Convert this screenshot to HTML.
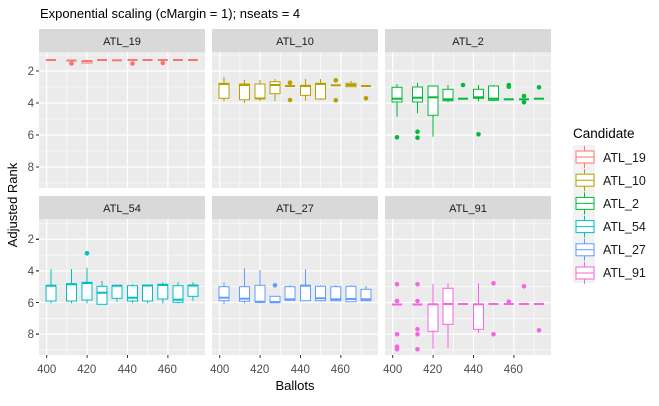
<!DOCTYPE html>
<html><head><meta charset="utf-8"><style>
html,body{margin:0;padding:0;background:#fff;}
svg text{font-family:"Liberation Sans",Arial,sans-serif;}
</style></head><body>
<svg id="s" width="659" height="401" xmlns="http://www.w3.org/2000/svg">
<rect width="659" height="401" fill="#fff"/>
<text x="40" y="18" font-size="13" fill="#000">Exponential scaling (cMargin = 1); nseats = 4</text>
<g id="panels"></g>
<g font-size="11" fill="#333">
<text x="122" y="45" text-anchor="middle" fill="#1a1a1a">ATL_19</text>
<text x="295" y="45" text-anchor="middle" fill="#1a1a1a">ATL_10</text>
<text x="468" y="45" text-anchor="middle" fill="#1a1a1a">ATL_2</text>
<text x="122" y="212" text-anchor="middle" fill="#1a1a1a">ATL_54</text>
<text x="295" y="212" text-anchor="middle" fill="#1a1a1a">ATL_27</text>
<text x="468" y="212" text-anchor="middle" fill="#1a1a1a">ATL_91</text>
</g>
<g font-size="11.5" fill="#4d4d4d" text-anchor="end">
<text x="34" y="75">2</text><text x="34" y="107">4</text><text x="34" y="139">6</text><text x="34" y="171">8</text>
<text x="34" y="243">2</text><text x="34" y="275">4</text><text x="34" y="307">6</text><text x="34" y="338">8</text>
</g>
<g font-size="11.5" fill="#4d4d4d" text-anchor="middle" id="xl">
<text x="46.7" y="373">400</text><text x="86.7" y="373">420</text><text x="127.3" y="373">440</text><text x="167.3" y="373">460</text>
<text x="219.7" y="373">400</text><text x="259.7" y="373">420</text><text x="300.3" y="373">440</text><text x="340.3" y="373">460</text>
<text x="392.7" y="373">400</text><text x="432.7" y="373">420</text><text x="473.3" y="373">440</text><text x="513.3" y="373">460</text>
</g>
<text x="295" y="390" font-size="13" text-anchor="middle">Ballots</text>
<text transform="translate(17,205) rotate(-90)" font-size="13" text-anchor="middle">Adjusted Rank</text>
<text x="573" y="138" font-size="13.5">Candidate</text>
<rect x="573" y="145" width="22" height="138" fill="#f2f2f2"/>
<g id="leg"></g>
<g font-size="12.5" fill="#1a1a1a">
<text x="603" y="162">ATL_19</text><text x="603" y="185">ATL_10</text><text x="603" y="208">ATL_2</text>
<text x="603" y="231">ATL_54</text><text x="603" y="254">ATL_27</text><text x="603" y="277">ATL_91</text>
</g>
</svg>
<script>
var NS="http://www.w3.org/2000/svg";
function el(p,t,a){var e=document.createElementNS(NS,t);for(var k in a)e.setAttribute(k,a[k]);p.appendChild(e);return e;}
var G=document.getElementById('panels');
var cols=[39,212,385], rows=[[52,188],[219,355]];
var offs=[12,32.5,48,63,78,93.5,108.5,123.8,139,154];
var px=function(L,b){return L+7.7+(b-400)*2.02;};
rows.forEach(function(r,ri){cols.forEach(function(L){
 el(G,'rect',{x:L,y:r[0]-23,width:166,height:23,fill:'#d9d9d9'});
 el(G,'rect',{x:L,y:r[0],width:166,height:r[1]-r[0],fill:'#ebebeb'});
 var yf=ri==0?function(v){return 39+16*v}:function(v){return 207.7+15.8*v};
 for(var v=1;v<=9;v+=2) el(G,'line',{x1:L,x2:L+166,y1:yf(v),y2:yf(v),stroke:'#fff','stroke-width':0.6});
 for(var v=2;v<=8;v+=2) el(G,'line',{x1:L,x2:L+166,y1:yf(v),y2:yf(v),stroke:'#fff','stroke-width':1.2});
 for(var b=410;b<=470;b+=20) el(G,'line',{x1:px(L,b),x2:px(L,b),y1:r[0],y2:r[1],stroke:'#fff','stroke-width':0.6});
 for(var b=400;b<=460;b+=20) el(G,'line',{x1:px(L,b),x2:px(L,b),y1:r[0],y2:r[1],stroke:'#fff','stroke-width':1.2});
 for(var v=2;v<=8;v+=2) el(G,'line',{x1:36,x2:39,y1:yf(v),y2:yf(v),stroke:'#333'});
 if(ri==1){for(var b=400;b<=460;b+=20) el(G,'line',{x1:px(L,b),x2:px(L,b),y1:355,y2:358,stroke:'#333'});}
});});
function draw(L,data,c){data.forEach(function(d,i){
 var cx=L+offs[i];
 if(d[0]==='f'){el(G,'line',{x1:cx-5,x2:cx+5,y1:d[1],y2:d[1],stroke:c,'stroke-width':2});
  (d[2]||[]).forEach(function(o){el(G,'circle',{cx:cx,cy:o,r:2.3,fill:c});});return;}
 el(G,'line',{x1:cx,x2:cx,y1:d[0],y2:d[1],stroke:c,'stroke-width':1});
 el(G,'line',{x1:cx,x2:cx,y1:d[3],y2:d[4],stroke:c,'stroke-width':1});
 el(G,'rect',{x:cx-5,y:d[1],width:10,height:d[3]-d[1],fill:'#fff',stroke:c,'stroke-width':1});
 el(G,'line',{x1:cx-5,x2:cx+5,y1:d[2],y2:d[2],stroke:c,'stroke-width':2});
 (d[5]||[]).forEach(function(o){el(G,'circle',{cx:cx,cy:o,r:2.3,fill:c});});
});}
draw(39,[['f',60],['f',60.5,[63.5]],[61,61,61,63,63],['f',60],['f',60.3],['f',60,[63.5]],['f',60],['f',60,[63]],['f',60],['f',60]],'#F8766D');
draw(212,[[77,83.3,84,98.3,101],[80,84,85,99.7,103],[80,84,98.5,98.5,101],[79,81.7,85,93.7,101],['f',86,[82.7,100]],[79,85.3,86,95.3,100.7],[79,83.3,84,99,100],['f',85.3,[80.3,100.3]],[81,83.3,85,86.7,86.7],['f',86,[98.3]]],'#B79F00');
draw(385,[[84,87.3,98.7,102,116.7,[137.3]],[82.7,87,97.7,102,113.3,[131.7,137.7]],[85.3,86,97.3,115.3,136.7],[85,89.3,99.3,100.7,102.3],['f',98.7,[85]],[85,89.3,97.3,98.3,101.3,[134.3]],[85,86,98.7,100.3,101],['f',99.3,[85,86.7]],['f',99.3,[96,102.3]],['f',98.7,[87.3]]],'#00BA38');
draw(39,[[269,285.7,285.7,301,303.3],[269,283.7,284.3,301,303.3],[267.7,282.3,283,300,303.3,[253.3]],[281,286.3,292.7,304.3,304.3],[285,285.7,285.7,298.3,301.7],[284.3,285.7,297.7,301,303.3],[285,285,285.5,301,303.3],[282.3,284.3,285,299,303.3],[282.3,285.7,299.7,302.3,303.3],[282.3,285,285.5,296.3,300.7]],'#00BFC4');
draw(212,[[282.3,286.7,297.7,300.7,304.3],[268.3,286.7,298.7,301.3,303.3],[270,285.3,301.7,302.3,303.3],[296.3,296.3,302,302.7,302.7,[285.3]],[285.3,286.7,299.3,300.3,300.3],[269.3,285.3,285.7,300.7,300.7],[285.3,286.3,298.3,300.7,301.3],[285.3,286.7,299.3,300.7,301.3],[285.3,286.3,299,301.7,302],[286,289.3,299.3,300.7,300.7]],'#619CFF');
draw(385,[['f',304.5,[301,284.3,334.3,346.7,349.3]],['f',304.5,[301,284.3,329.3,334.3,349.3]],[284,304.3,304.3,331.3,348.7],[283.3,288.3,304,324.3,347.7],['f',304],[283.3,304.3,304.3,329.3,333.3],['f',304,[283.3,334.3]],['f',304,[301.7]],['f',304,[286.3]],['f',304,[330.3]]],'#F564E3');
var LG=document.getElementById('leg');
['#F8766D','#B79F00','#00BA38','#00BFC4','#619CFF','#F564E3'].forEach(function(c,i){
 var y=157+23.2*i;
 el(LG,'line',{x1:584.5,x2:584.5,y1:y-11,y2:y+11,stroke:c});
 el(LG,'rect',{x:576,y:y-6,width:18,height:12,fill:'#fff',stroke:c});
 el(LG,'line',{x1:576,x2:594,y1:y,y2:y,stroke:c});
});
</script>
</body></html>
